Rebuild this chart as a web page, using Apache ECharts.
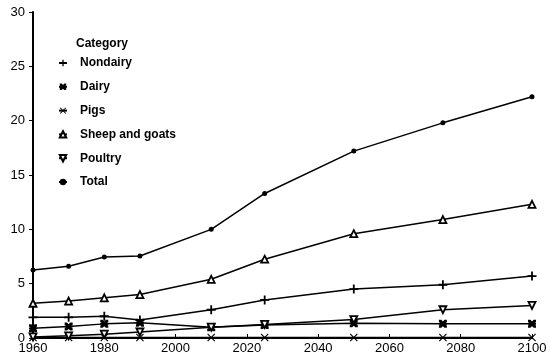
<!DOCTYPE html>
<html><head><meta charset="utf-8">
<script src="https://cdn.jsdelivr.net/npm/echarts@6/dist/echarts.min.js"></script>
<style>html,body{margin:0;padding:0;background:#fff}#c{width:550px;height:360px}</style>
</head><body><div id="c"></div>
<script>
const years = [1960, 1970, 1980, 1990, 2010, 2025, 2050, 2075, 2100];
const nondairy = [1.9, 1.9, 2.0, 1.65, 2.6, 3.5, 4.5, 4.9, 5.7];
const dairy = [0.9, 1.05, 1.3, 1.4, 1.0, 1.2, 1.35, 1.3, 1.3];
const pigs = [0.05, 0.05, 0.05, 0.05, 0.05, 0.05, 0.05, 0.05, 0.05];
const sheepGoats = [3.2, 3.4, 3.7, 4.0, 5.4, 7.25, 9.6, 10.9, 12.3];
const poultry = [0.1, 0.2, 0.35, 0.55, 1.0, 1.25, 1.7, 2.6, 3.0];
const total = [6.25, 6.6, 7.45, 7.55, 10.0, 13.3, 17.2, 19.8, 22.2];
const yTicks = [0, 5, 10, 15, 20, 25, 30];

const PLUS = 'path://M4,0H6V4H10V6H6V10H4V6H0V4H4Z';
const XMARK = 'path://M1,0L5,4L9,0L10,1L6,5L10,9L9,10L5,6L1,10L0,9L4,5L0,1Z';
const ASTER = 'path://M0,0H3L5,2L7,0H10V3L8,4H10V6H8L10,7V10H7L5,8L3,10H0V7L2,6H0V4H2L0,3Z';

function pts(arr){ return years.map((y,i)=>[y, arr[i]]); }

const defs = [
  {name:'Nondairy', data:nondairy, symbol:PLUS, size:9, fill:'#000'},
  {name:'Dairy', data:dairy, symbol:ASTER, size:8, fill:'#000'},
  {name:'Pigs', data:pigs, symbol:XMARK, size:8, fill:'#000'},
  {name:'Sheep and goats', data:sheepGoats, symbol:'triangle', size:7, fill:'#fff'},
  {name:'Poultry', data:poultry, symbol:'path://M0,0H10L5,9Z', size:7, fill:'#fff'},
  {name:'Total', data:total, symbol:'circle', size:5, fill:'#000'}
];

const series = defs.map(d => ({
  name: d.name,
  type: 'line',
  data: pts(d.data),
  symbol: d.symbol,
  symbolSize: d.size,
  legendIcon: d.symbol,
  showAllSymbol: true,
  animation: false,
  lineStyle: {color:'#000', width:1.5},
  itemStyle: {color: d.fill, borderColor:'#000', borderWidth: d.fill === '#fff' ? 1.8 : 0}
}));

const chart = echarts.init(document.getElementById('c'));
chart.setOption({
  animation: false,
  backgroundColor: '#fff',
  grid: {left: 33, right: 18, top: 12, bottom: 22},
  xAxis: {
    type: 'value', min: 1960, max: 2100, interval: 20,
    axisLine: {lineStyle: {color:'#000', width:2}},
    axisTick: {show:true, inside:true, length:4, lineStyle:{color:'#000'}},
    axisLabel: {color:'#000', fontSize:13, fontFamily:'Liberation Sans, Arial', margin:4,
      formatter: v => String(v)},
    splitLine: {show:false}
  },
  yAxis: {
    type: 'value', min: 0, max: 30, interval: 5,
    axisLine: {show:true, lineStyle: {color:'#000', width:2}},
    axisTick: {show:true, length:4, lineStyle:{color:'#000'}},
    axisLabel: {color:'#000', fontSize:13, fontFamily:'Liberation Sans, Arial', margin:8,
      formatter: v => yTicks.includes(v) ? String(v) : ''},
    splitLine: {show:false}
  },
  legend: {
    orient: 'vertical', left: 53, top: 52,
    itemWidth: 8, itemHeight: 8, itemGap: 11.8,
    textStyle: {color:'#000', fontSize:12, fontWeight:'bold', fontFamily:'Liberation Sans, Arial',
      padding:[0,0,0,8]},
    selectedMode: false,
    data: defs.map(d => d.name)
  },
  graphic: [{
    type:'text', left: 76, top: 38,
    style: {text:'Category', fill:'#000', font:'bold 12px "Liberation Sans", Arial'}
  }],
  series: series
});
</script></body></html>
